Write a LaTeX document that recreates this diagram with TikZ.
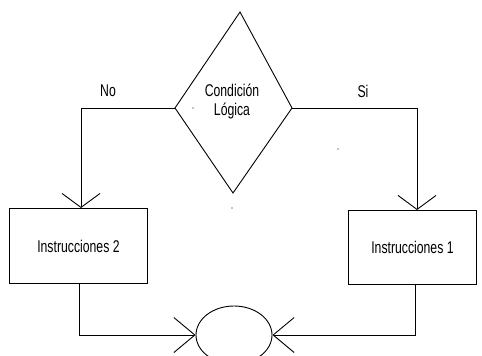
\documentclass[tikz,border=0pt]{standalone}
\usepackage{fontspec}
\setmainfont[FakeStretch=0.72]{Liberation Sans}
\usetikzlibrary{arrows.meta,shapes.geometric}
\begin{document}
\begin{tikzpicture}[x=1pt,y=-1pt,
  line/.style={line width=0.9pt,black},
  lbl/.style={font=\fontsize{17}{19}\selectfont,inner sep=0pt,align=center},
  box/.style={line,draw,rectangle,inner sep=0pt,anchor=north west},
  barbsmall/.style={-{Straight Barb[length=14pt,width=38pt,line width=0.9pt]}},
  barbbig/.style={-{Straight Barb[length=21pt,width=35pt,line width=0.9pt]}}]
\useasboundingbox (0,0) rectangle (482,356);
% decision diamond
\coordinate (dtop) at (240,12);
\coordinate (dright) at (292,108);
\coordinate (dbot) at (233,193);
\coordinate (dleft) at (175,108);
\draw[line,line join=miter] (dtop) -- (dright) -- (dbot) -- (dleft) -- cycle;
\node[lbl] (cond) at (232,102) {Condición\\Lógica};
% process boxes
\node[box,minimum width=138pt,minimum height=75pt] (ins2) at (9,208) {};
\node[lbl] at (ins2.center) {Instrucciones 2};
\node[box,minimum width=128pt,minimum height=74pt] (ins1) at (348,210) {};
\node[lbl] at (ins1.center) {Instrucciones 1};
% connector ellipse
\node[line,draw,ellipse,minimum width=76pt,minimum height=58pt,inner sep=0pt] (join) at (234,335) {};
% branch labels
\node[lbl] (no) at (108,91) {No};
\node[lbl] (si) at (363,91) {Si};
% branches
\draw[line,barbsmall] (dleft) -| (ins2.north -| 81,0);
\draw[line,barbsmall] (dright) -| (ins1.north -| 417,0);
% merge into the connector
\draw[line,barbbig] (ins2.south -| 79,0) |- (join.west);
\draw[line,barbbig] (ins1.south -| 415,0) |- (join.east);
% stray marks
\fill (193,108) circle (0.7pt);
\fill (338,149) circle (0.7pt);
\fill (232,208) circle (0.7pt);
\end{tikzpicture}
\end{document}
